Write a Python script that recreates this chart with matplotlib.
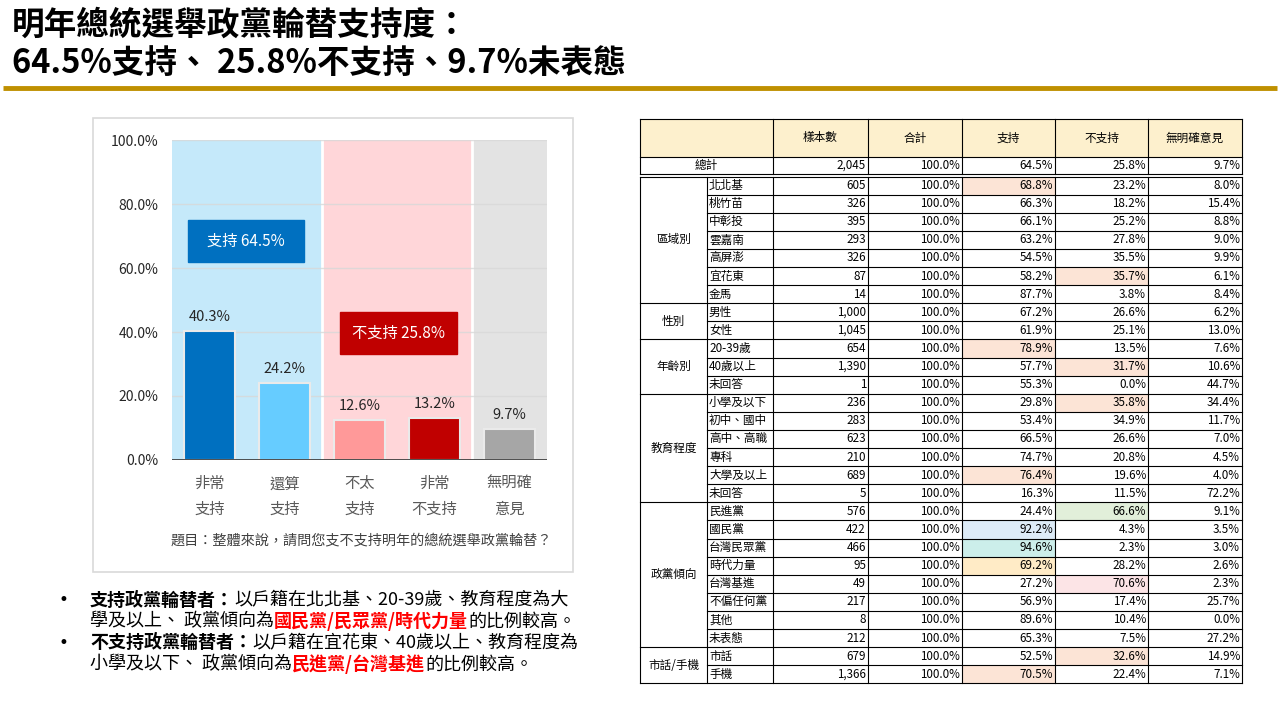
import matplotlib
matplotlib.use('Agg')
import matplotlib.pyplot as plt
from matplotlib.patches import Rectangle

plt.rcParams['font.family'] = ['Noto Sans CJK TC', 'DejaVu Sans']

W, H = 1280, 720

# --- title
title_lines = ['明年總統選舉政黨輪替支持度：', '64.5%支持、 25.8%不支持、9.7%未表態']

# --- bar chart data
categories = ['非常\n支持', '還算\n支持', '不太\n支持', '非常\n不支持', '無明確\n意見']
shares = [40.3, 24.2, 12.6, 13.2, 9.7]
bar_colors = ['#0070C0', '#66CCFF', '#FF9999', '#C00000', '#A6A6A6']
y_ticks = [0, 20, 40, 60, 80, 100]
support_label = '支持 64.5%'
oppose_label = '不支持 25.8%'
question = '題目：整體來說，請問您支不支持明年的總統選舉政黨輪替？'

# --- bullet notes: (text, bold, color)
notes = [
    [('支持政黨輪替者：', True, '#000000'), ('以戶籍在北北基、20-39歲、教育程度為大', False, '#000000')],
    [('學及以上、 政黨傾向為', False, '#000000'), ('國民黨/民眾黨/時代力量', True, '#FF0000'), ('的比例較高。', False, '#000000')],
    [('不支持政黨輪替者：', True, '#000000'), ('以戶籍在宜花東、40歲以上、教育程度為', False, '#000000')],
    [('小學及以下、 政黨傾向為', False, '#000000'), ('民進黨/台灣基進', True, '#FF0000'), ('的比例較高。', False, '#000000')],
]
bullet_lines = [0, 2]

# --- table data
header = ['樣本數', '合計', '支持', '不支持', '無明確意見']
total_row = ['2,045', '100.0%', '64.5%', '25.8%', '9.7%']
groups = ['區域別', '性別', '年齡別', '教育程度', '政黨傾向', '市話/手機']
group_sizes = [7, 2, 3, 6, 8, 2]
subcats = ['北北基', '桃竹苗', '中彰投', '雲嘉南', '高屏澎', '宜花東', '金馬',
           '男性', '女性',
           '20-39歲', '40歲以上', '未回答',
           '小學及以下', '初中、國中', '高中、高職', '專科', '大學及以上', '未回答',
           '民進黨', '國民黨', '台灣民眾黨', '時代力量', '台灣基進', '不偏任何黨', '其他', '未表態',
           '市話', '手機']
sample_n = ['605', '326', '395', '293', '326', '87', '14',
            '1,000', '1,045',
            '654', '1,390', '1',
            '236', '283', '623', '210', '689', '5',
            '576', '422', '466', '95', '49', '217', '8', '212',
            '679', '1,366']
row_total = ['100.0%'] * len(subcats)
support = [68.8, 66.3, 66.1, 63.2, 54.5, 58.2, 87.7,
           67.2, 61.9,
           78.9, 57.7, 55.3,
           29.8, 53.4, 66.5, 74.7, 76.4, 16.3,
           24.4, 92.2, 94.6, 69.2, 27.2, 56.9, 89.6, 65.3,
           52.5, 70.5]
oppose = [23.2, 18.2, 25.2, 27.8, 35.5, 35.7, 3.8,
          26.6, 25.1,
          13.5, 31.7, 0.0,
          35.8, 34.9, 26.6, 20.8, 19.6, 11.5,
          66.6, 4.3, 2.3, 28.2, 70.6, 17.4, 10.4, 7.5,
          32.6, 22.4]
no_opinion = [8.0, 15.4, 8.8, 9.0, 9.9, 6.1, 8.4,
              6.2, 13.0,
              7.6, 10.6, 44.7,
              34.4, 11.7, 7.0, 4.5, 4.0, 72.2,
              9.1, 3.5, 3.0, 2.6, 2.3, 25.7, 0.0, 27.2,
              14.9, 7.1]
# highlighted cells: (row index, column name, colour)
highlights = [(0, '支持', '#FCE4D6'), (5, '不支持', '#FCE4D6'),
              (9, '支持', '#FCE4D6'), (10, '不支持', '#FCE4D6'),
              (12, '不支持', '#FCE4D6'), (16, '支持', '#FCE4D6'),
              (18, '不支持', '#E2EFDA'), (19, '支持', '#DDEBF7'),
              (20, '支持', '#CCEEEA'), (21, '支持', '#FFEBC6'),
              (22, '不支持', '#FCE4E6'),
              (26, '不支持', '#FCE4D6'), (27, '支持', '#FCE4D6')]

fig = plt.figure(figsize=(W / 100, H / 100), dpi=100)

# overlay axes in pixel coordinates for title, table and frames
ov = fig.add_axes([0, 0, 1, 1])
ov.set_xlim(0, W)
ov.set_ylim(H, 0)
ov.axis('off')

ov.text(12, 25, title_lines[0], fontsize=23.5, fontweight='bold', va='center', ha='left')
ov.text(12, 64, title_lines[1], fontsize=23.5, fontweight='bold', va='center', ha='left')
ov.plot([3, 1277], [88, 88], color='#BF9000', lw=3.5, solid_capstyle='butt')

# chart frame
ov.add_patch(Rectangle((93, 118), 480, 454, fill=False, edgecolor='#D9D9D9', lw=1.2))

# --- bar chart
ax = fig.add_axes([172 / W, 1 - 460 / H, 375 / W, 320 / H])
x = list(range(len(shares)))
ax.axvspan(-0.5, 1.5, color='#C5E9FA', zorder=0, lw=0)
ax.axvspan(1.5, 3.5, color='#FFD6D9', zorder=0, lw=0)
ax.axvspan(3.5, 4.5, color='#E3E3E3', zorder=0, lw=0)
for b in [1.5, 3.5]:
    ax.axvline(b, color='white', lw=2, zorder=1)
for t in y_ticks[1:]:
    ax.axhline(t, color='#D8D8D8', lw=1, alpha=0.8, zorder=1)
ax.bar(x, shares, width=0.667, color=bar_colors, edgecolor='#EAEAEA', linewidth=1.5, zorder=3)
for i, v in enumerate(shares):
    ax.annotate(f'{v}%', (i, v), xytext=(0, 5), textcoords='offset points',
                ha='center', va='bottom', fontsize=10.5, color='#262626')
ax.axhline(0, color='#404040', lw=2, zorder=4)
ax.set_xlim(-0.5, 4.5)
ax.set_ylim(0, 100)
ax.set_yticks(y_ticks)
ax.set_yticklabels([f'{t:.1f}%' for t in y_ticks], fontsize=10, color='#262626')
ax.set_xticks(x)
ax.set_xticklabels(categories, fontsize=11, color='#595959', linespacing=1.65)
ax.tick_params(length=0, pad=10)
ax.tick_params(axis='x', pad=11)
for s in ax.spines.values():
    s.set_visible(False)

ax.add_patch(Rectangle((-0.29, 62), 1.55, 13.1, color='#0070C0', zorder=5))
ax.text(0.485, 68.5, support_label, color='white', fontsize=11, ha='center', va='center', zorder=6)
ax.add_patch(Rectangle((1.74, 33.1), 1.56, 13.1, color='#C00000', zorder=5))
ax.text(2.52, 39.6, oppose_label, color='white', fontsize=11, ha='center', va='center', zorder=6)

ov.text(361, 540, question, fontsize=10.2, color='#404040', ha='center', va='center')

# --- bullet notes
renderer = fig.canvas.get_renderer()
line_y = [600, 621.5, 643, 664.5]
for li, runs in enumerate(notes):
    if li in bullet_lines:
        ov.text(63, line_y[li], '•', fontsize=12, ha='center', va='center', family='DejaVu Sans')
    cx = 90
    for txt, bold, col in runs:
        t = ov.text(cx, line_y[li], txt, fontsize=13, color=col, va='center', ha='left',
                    fontweight='bold' if bold else 'normal')
        bb = t.get_window_extent(renderer)
        cx += bb.width

# --- table
col_x = [640, 707, 773, 868, 962, 1055, 1148, 1242]
head_top, head_bot = 119, 157
tot_bot = 174
data_top = 176.5
row_h = 18.1
lw = 0.8
fs = 8.4
col_names = header

# header
ov.add_patch(Rectangle((col_x[0], head_top), col_x[-1] - col_x[0], head_bot - head_top,
                       facecolor='#FDF0CD', edgecolor='none'))
for j, name in enumerate(header):
    cxm = (col_x[j + 2] + col_x[j + 3]) / 2
    ov.text(cxm, (head_top + head_bot) / 2, name, fontsize=fs, ha='center', va='center')

# total row
ov.text((col_x[0] + col_x[2]) / 2, (head_bot + tot_bot) / 2, '總計', fontsize=fs, ha='center', va='center')
for j, val in enumerate(total_row):
    ov.text(col_x[j + 3] - 2, (head_bot + tot_bot) / 2, val, fontsize=fs, ha='right', va='center')

n_rows = len(subcats)
table_bot = data_top + n_rows * row_h

# highlights
for r, cname, colr in highlights:
    j = col_names.index(cname)
    ov.add_patch(Rectangle((col_x[j + 2], data_top + r * row_h), col_x[j + 3] - col_x[j + 2], row_h,
                           facecolor=colr, edgecolor='none'))

# data rows
for r in range(n_rows):
    yc = data_top + (r + 0.5) * row_h
    ov.text(col_x[1] + 2, yc, subcats[r], fontsize=fs, ha='left', va='center')
    vals = [sample_n[r], row_total[r], f'{support[r]:.1f}%', f'{oppose[r]:.1f}%', f'{no_opinion[r]:.1f}%']
    for j, val in enumerate(vals):
        ov.text(col_x[j + 3] - 2, yc, val, fontsize=fs, ha='right', va='center')

# group labels and lines
start = 0
for g, size in zip(groups, group_sizes):
    y0 = data_top + start * row_h
    y1 = data_top + (start + size) * row_h
    ov.text((col_x[0] + col_x[1]) / 2, (y0 + y1) / 2, g, fontsize=fs, ha='center', va='center')
    ov.plot([col_x[0], col_x[-1]], [y1, y1], color='black', lw=lw)
    for k in range(1, size):
        yk = data_top + (start + k) * row_h
        ov.plot([col_x[1], col_x[-1]], [yk, yk], color='black', lw=lw)
    start += size

# frame lines
ov.plot([col_x[0], col_x[-1]], [head_top, head_top], color='black', lw=lw)
ov.plot([col_x[0], col_x[-1]], [head_bot, head_bot], color='black', lw=lw)
ov.plot([col_x[0], col_x[-1]], [tot_bot, tot_bot], color='black', lw=lw)
ov.plot([col_x[0], col_x[-1]], [data_top, data_top], color='black', lw=lw)
for j, xc in enumerate(col_x):
    if j == 1:
        ov.plot([xc, xc], [data_top, table_bot], color='black', lw=lw)
    else:
        ov.plot([xc, xc], [head_top, tot_bot], color='black', lw=lw)
        ov.plot([xc, xc], [data_top, table_bot], color='black', lw=lw)

fig.savefig('out.png', dpi=100)
